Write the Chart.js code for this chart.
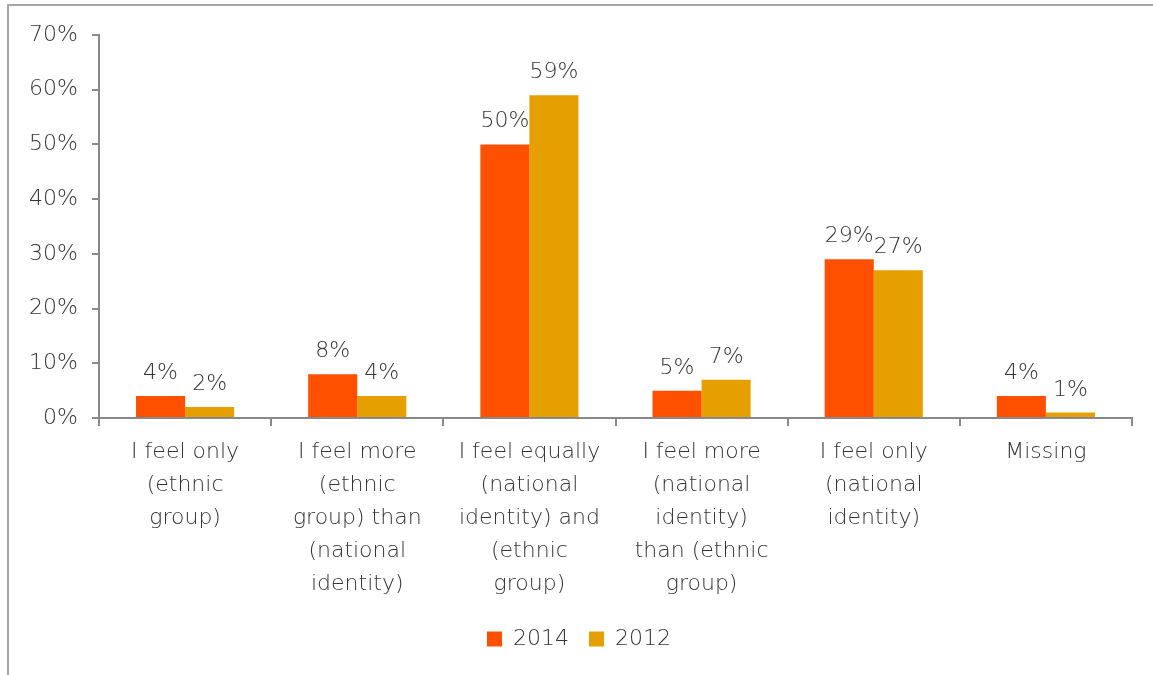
<!DOCTYPE html>
<html>
<head>
<meta charset="utf-8">
<script src="https://cdn.jsdelivr.net/npm/chart.js@4"></script>
<style>
  body { margin: 0; background: #fff; }
  #frame { position: absolute; left: 7px; top: 4px; width: 1200px; height: 700px; border-left: 2px solid #a6a6a6; border-top: 2px solid #a6a6a6; }
  #wrap { position: absolute; left: 0; top: 0; width: 1153px; height: 675px; }
</style>
</head>
<body>
<div id="frame"></div>
<div id="wrap"><canvas id="chart"></canvas></div>
<script>
const categories = [
  ['I feel only', '(ethnic', 'group)'],
  ['I feel more', '(ethnic', 'group) than', '(national', 'identity)'],
  ['I feel equally', '(national', 'identity) and', '(ethnic', 'group)'],
  ['I feel more', '(national', 'identity)', 'than (ethnic', 'group)'],
  ['I feel only', '(national', 'identity)'],
  ['Missing'],
];
const values2014 = [4, 8, 50, 5, 29, 4];
const values2012 = [2, 4, 59, 7, 27, 1];
const yTicks = [0, 10, 20, 30, 40, 50, 60, 70];

const textColor = '#333333';
const axisColor = '#898989';
const font = { family: 'DejaVu Sans', size: 22, weight: '200', lineHeight: 1.5 };

// draws the value over each bar
const barLabels = {
  id: 'barLabels',
  afterDatasetsDraw(chart) {
    const ctx = chart.ctx;
    ctx.save();
    ctx.font = '200 22px "DejaVu Sans"';
    ctx.fillStyle = textColor;
    ctx.textAlign = 'center';
    ctx.textBaseline = 'alphabetic';
    chart.data.datasets.forEach((ds, i) => {
      chart.getDatasetMeta(i).data.forEach((bar, j) => {
        ctx.fillText(ds.data[j] + '%', bar.x, bar.y - 17);
      });
    });
    ctx.restore();
  }
};

new Chart(document.getElementById('chart'), {
  type: 'bar',
  data: {
    labels: categories,
    datasets: [
      { label: '2014', data: values2014, backgroundColor: '#FF5000' },
      { label: '2012', data: values2012, backgroundColor: '#E69F00' },
    ],
  },
  options: {
    responsive: true,
    maintainAspectRatio: false,
    animation: false,
    datasets: { bar: { categoryPercentage: 0.57, barPercentage: 1 } },
    layout: { padding: { left: 26, top: 35, right: 21, bottom: 15 } },
    scales: {
      x: {
        grid: { display: true, drawOnChartArea: false, tickLength: 8, color: axisColor, lineWidth: 2 },
        border: { display: true, color: axisColor, width: 2 },
        ticks: { color: textColor, font: font, padding: 10, maxRotation: 0, autoSkip: false },
        afterFit(scale) { scale.height = 190; },
      },
      y: {
        min: 0,
        max: 70,
        afterBuildTicks(scale) { scale.ticks = yTicks.map(v => ({ value: v })); },
        grid: { display: true, drawOnChartArea: false, tickLength: 7, color: axisColor, lineWidth: 2 },
        border: { display: true, color: axisColor, width: 2 },
        ticks: { color: textColor, font: font, padding: 14, callback: v => v + '%' },
        afterFit(scale) { scale.width = 73; },
      },
    },
    plugins: {
      legend: {
        position: 'bottom',
        labels: { color: textColor, font: font, boxWidth: 15, boxHeight: 15, padding: 20 },
      },
      tooltip: { enabled: false },
    },
  },
  plugins: [barLabels],
});
</script>
</body>
</html>
